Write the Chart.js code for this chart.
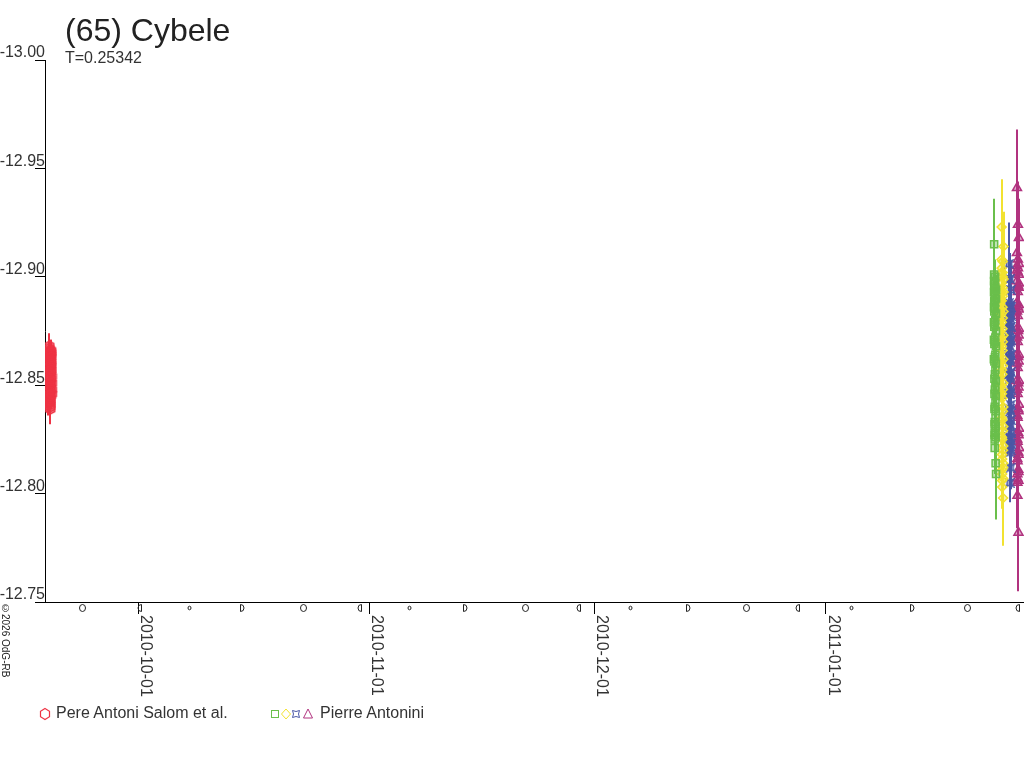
<!DOCTYPE html>
<html>
<head>
<meta charset="utf-8">
<script src="https://cdn.jsdelivr.net/npm/chart.js@4.4.1/dist/chart.umd.min.js"></script>
<style>
  html, body { margin:0; padding:0; background:#fff; }
  #wrap { position:relative; width:1024px; height:768px; overflow:hidden; font-family:"Liberation Sans", Arial, sans-serif; }
  canvas { position:absolute; left:0; top:0; }
  .t { position:absolute; white-space:nowrap; line-height:1; color:#222; }
</style>
</head>
<body>
<div id="wrap">
  <canvas id="c" width="1024" height="768" style="width:1024px;height:768px"></canvas>
  <div class="t" style="left:65px;top:14px;font-size:32px;">(65) Cybele</div>
  <div class="t" style="left:65px;top:50px;font-size:16px;color:#333;">T=0.25342</div>
  <div class="t" style="left:0px;top:603px;font-size:10px;writing-mode:vertical-rl;color:#222;">©2026 OdG-RB</div>
  <svg style="position:absolute;left:38px;top:707px" width="14" height="14" viewBox="0 0 14 14">
    <polygon points="7,1.5 11.5,4.25 11.5,9.75 7,12.5 2.5,9.75 2.5,4.25" fill="none" stroke="#ee3344" stroke-width="1.2"/>
  </svg>
  <div class="t" style="left:56px;top:705px;font-size:16px;color:#333;">Pere Antoni Salom et al.</div>
  <svg style="position:absolute;left:266px;top:706px" width="52" height="16" viewBox="0 0 52 16">
    <rect x="5.5" y="4.5" width="7" height="7" fill="none" stroke="#6abf4b"/>
    <polygon points="20,3 24.5,8 20,13 15.5,8" fill="none" stroke="#f2e230"/>
    <path d="M26.5,4.5 Q30,6.5 33.5,4.5 Q31.5,8 33.5,11.5 Q30,9.5 26.5,11.5 Q28.5,8 26.5,4.5 Z" fill="none" stroke="#4b58a6"/>
    <polygon points="42,3 46.5,12 37.5,12" fill="none" stroke="#b1337f"/>
  </svg>
  <div class="t" style="left:320px;top:705px;font-size:16px;color:#333;">Pierre Antonini</div>
</div>
<script>
// ---- axis / tick data (x in days since 2010-09-01 00:00 UT) ----
const xMin = 17.56;
const xMax = 148.48;
const monthTickDays = [30, 61, 91, 122];
const monthTickLabels = ['2010-10-01', '2010-11-01', '2010-12-01', '2011-01-01'];
const yMin = -13.00;
const yMax = -12.75;
const yStep = 0.05;

// moon phases: 'F' full, 'L' last quarter, 'N' new, 'Q' first quarter
const moonDays = [22.47, 30.16, 36.78, 43.89, 52.07, 59.53, 66.20, 73.69, 81.73, 88.86, 95.73, 103.58, 111.34, 118.18, 125.38, 133.48, 140.89, 147.54];
const moonTypes = ['F','L','N','Q','F','L','N','Q','F','L','N','Q','F','L','N','Q','F','L'];

// ---- Pere Antoni Salom et al. ----
const salomT = [18.02,18.03,18.04,18.05,18.06,18.07,18.08,18.09,18.10,
                18.11,18.12,18.13,18.14,18.15,18.16,18.17,18.18,18.19,
                18.20,18.21,18.22,18.23,18.24,18.25,18.26,18.27,18.28,
                18.29,18.30,18.31,18.32,18.33,18.34,18.35,18.36,18.37,
                18.38,18.39,18.40,18.41,18.42,18.43,18.44,18.45,18.46];
const salomMag = [-12.842,-12.845,-12.848,-12.850,-12.853,-12.856,-12.858,-12.861,-12.863,
                  -12.865,-12.867,-12.866,-12.868,-12.865,-12.864,-12.862,-12.859,-12.857,
                  -12.854,-12.851,-12.849,-12.846,-12.844,-12.842,-12.840,-12.839,-12.841,
                  -12.843,-12.845,-12.848,-12.851,-12.853,-12.856,-12.859,-12.861,-12.864,
                  -12.866,-12.865,-12.863,-12.860,-12.857,-12.854,-12.851,-12.848,-12.846];
const salomErr = [0.006,0.005,0.005,0.006,0.005,0.004,0.005,0.006,0.005,
                  0.005,0.006,0.005,0.006,0.005,0.004,0.005,0.005,0.006,
                  0.005,0.004,0.005,0.006,0.005,0.005,0.006,0.007,0.005,
                  0.005,0.006,0.005,0.004,0.005,0.006,0.005,0.005,0.006,
                  0.005,0.006,0.005,0.005,0.004,0.005,0.006,0.005,0.005];

// ---- Pierre Antonini, night 1 (green squares) ----
const ant1T = [144.450,144.455,144.461,144.466,144.472,144.477,144.483,144.488,
               144.494,144.499,144.505,144.510,144.516,144.521,144.527,144.532,
               144.538,144.543,144.549,144.554,144.560,144.565,144.571,144.576,
               144.582,144.587,144.593,144.598,144.604,144.609,144.615,144.620,
               144.626,144.631,144.637,144.642,144.648,144.653,144.659,144.664,
               144.670,144.675,144.681,144.686,144.692,144.697,144.703,144.708,
               144.714,144.719,144.725,144.730,144.736,144.741,144.747,144.752];
const ant1Mag = [-12.862,-12.871,-12.879,-12.886,-12.893,-12.898,-12.901,-12.915,
                 -12.896,-12.889,-12.884,-12.877,-12.869,-12.861,-12.853,-12.846,
                 -12.839,-12.832,-12.828,-12.825,-12.821,-12.827,-12.833,-12.840,
                 -12.848,-12.855,-12.863,-12.870,-12.878,-12.885,-12.891,-12.897,
                 -12.900,-12.895,-12.888,-12.880,-12.872,-12.864,-12.857,-12.849,
                 -12.842,-12.835,-12.829,-12.814,-12.826,-12.831,-12.838,-12.845,
                 -12.852,-12.860,-12.868,-12.875,-12.883,-12.809,-12.890,-12.894];
const ant1Err = [0.007,0.008,0.007,0.009,0.008,0.007,0.009,0.021,
                 0.008,0.007,0.008,0.006,0.007,0.008,0.007,0.006,
                 0.007,0.008,0.006,0.007,0.012,0.007,0.008,0.006,
                 0.007,0.008,0.007,0.006,0.008,0.007,0.009,0.008,
                 0.008,0.007,0.008,0.006,0.007,0.008,0.007,0.006,
                 0.007,0.006,0.008,0.018,0.007,0.008,0.006,0.007,
                 0.008,0.007,0.006,0.008,0.007,0.021,0.008,0.007];

// ---- Pierre Antonini, night 2 (yellow diamonds) ----
const ant2T = [145.450,145.455,145.461,145.466,145.472,145.477,145.483,145.488,
               145.494,145.499,145.505,145.510,145.516,145.521,145.527,145.532,
               145.538,145.543,145.549,145.554,145.560,145.565,145.571,145.576,
               145.582,145.587,145.593,145.598,145.604,145.609,145.615,145.620,
               145.626,145.631,145.637,145.642,145.648,145.653,145.659,145.664,
               145.670,145.675,145.681,145.686,145.692,145.697,145.703,145.708,
               145.714,145.719,145.725,145.730,145.736,145.741,145.747,145.752];
const ant2Mag = [-12.850,-12.861,-12.872,-12.883,-12.893,-12.902,-12.908,-12.923,
                 -12.904,-12.897,-12.889,-12.879,-12.868,-12.857,-12.846,-12.835,
                 -12.826,-12.818,-12.811,-12.806,-12.803,-12.809,-12.816,-12.825,
                 -12.834,-12.844,-12.855,-12.866,-12.876,-12.886,-12.895,-12.902,
                 -12.907,-12.900,-12.891,-12.881,-12.870,-12.859,-12.848,-12.838,
                 -12.829,-12.820,-12.812,-12.798,-12.807,-12.814,-12.822,-12.831,
                 -12.840,-12.851,-12.862,-12.873,-12.884,-12.914,-12.893,-12.899];
const ant2Err = [0.008,0.007,0.009,0.008,0.007,0.009,0.010,0.022,
                 0.009,0.008,0.007,0.008,0.009,0.007,0.008,0.007,
                 0.008,0.009,0.007,0.008,0.010,0.008,0.007,0.008,
                 0.007,0.008,0.009,0.007,0.008,0.009,0.008,0.007,
                 0.009,0.008,0.007,0.009,0.008,0.007,0.008,0.009,
                 0.007,0.008,0.009,0.022,0.008,0.007,0.009,0.008,
                 0.007,0.008,0.009,0.007,0.008,0.016,0.009,0.008];

// ---- Pierre Antonini, night 3 (blue stars) ----
const ant3T = [146.450,146.455,146.461,146.466,146.472,146.477,146.483,146.488,
               146.494,146.499,146.505,146.510,146.516,146.521,146.527,146.532,
               146.538,146.543,146.549,146.554,146.560,146.565,146.571,146.576,
               146.582,146.587,146.593,146.598,146.604,146.609,146.615,146.620,
               146.626,146.631,146.637,146.642,146.648,146.653,146.659,146.664,
               146.670,146.675,146.681,146.686,146.692,146.697,146.703,146.708,
               146.714,146.719,146.725,146.730,146.736,146.741,146.747,146.752];
const ant3Mag = [-12.846,-12.855,-12.864,-12.872,-12.879,-12.885,-12.888,-12.906,
                 -12.884,-12.878,-12.871,-12.863,-12.855,-12.847,-12.839,-12.832,
                 -12.826,-12.822,-12.819,-12.805,-12.821,-12.826,-12.832,-12.839,
                 -12.846,-12.853,-12.861,-12.868,-12.875,-12.881,-12.886,-12.899,
                 -12.887,-12.883,-12.877,-12.870,-12.862,-12.854,-12.846,-12.838,
                 -12.831,-12.825,-12.820,-12.812,-12.823,-12.828,-12.834,-12.841,
                 -12.848,-12.856,-12.864,-12.871,-12.877,-12.894,-12.882,-12.886];
const ant3Err = [0.007,0.006,0.008,0.007,0.006,0.008,0.007,0.019,
                 0.007,0.008,0.006,0.007,0.008,0.006,0.007,0.008,
                 0.006,0.007,0.008,0.009,0.007,0.006,0.008,0.007,
                 0.006,0.007,0.008,0.006,0.007,0.008,0.006,0.012,
                 0.007,0.006,0.008,0.007,0.006,0.008,0.007,0.006,
                 0.008,0.007,0.006,0.010,0.007,0.008,0.006,0.007,
                 0.008,0.006,0.007,0.008,0.006,0.011,0.007,0.008];

// ---- Pierre Antonini, night 4 (magenta triangles) ----
const ant4T = [147.500,147.506,147.511,147.517,147.522,147.528,147.533,147.539,
               147.544,147.550,147.555,147.561,147.566,147.572,147.577,147.583,
               147.588,147.594,147.599,147.605,147.610,147.616,147.621,147.627,
               147.632,147.638,147.643,147.649,147.654,147.660,147.665,147.671,
               147.676,147.682,147.687,147.693,147.698,147.704,147.709,147.715,
               147.720,147.726,147.731,147.737,147.742,147.748,147.753,147.759,
               147.764,147.770,147.775,147.781,147.786,147.792,147.797,147.803,
               147.808,147.814,147.819,147.825,147.830,147.836,147.841,147.847];
const ant4Mag = [-12.852,-12.864,-12.876,-12.888,-12.898,-12.905,-12.911,-12.941,
                 -12.903,-12.895,-12.884,-12.872,-12.860,-12.848,-12.836,-12.825,
                 -12.816,-12.809,-12.805,-12.799,-12.807,-12.815,-12.824,-12.835,
                 -12.846,-12.858,-12.870,-12.882,-12.893,-12.902,-12.908,-12.924,
                 -12.904,-12.896,-12.886,-12.875,-12.863,-12.851,-12.839,-12.828,
                 -12.819,-12.811,-12.806,-12.782,-12.810,-12.818,-12.827,-12.838,
                 -12.849,-12.861,-12.873,-12.885,-12.895,-12.918,-12.901,-12.906,
                 -12.897,-12.887,-12.876,-12.864,-12.852,-12.841,-12.830,-12.821];
const ant4Err = [0.009,0.008,0.010,0.009,0.008,0.010,0.011,0.027,
                 0.009,0.010,0.008,0.009,0.010,0.008,0.009,0.010,
                 0.008,0.009,0.010,0.015,0.009,0.008,0.010,0.009,
                 0.010,0.008,0.009,0.010,0.008,0.009,0.011,0.020,
                 0.009,0.010,0.008,0.009,0.010,0.008,0.009,0.010,
                 0.008,0.009,0.010,0.027,0.009,0.008,0.010,0.009,
                 0.010,0.008,0.009,0.010,0.008,0.018,0.009,0.010,
                 0.008,0.009,0.010,0.008,0.009,0.010,0.008,0.009];

// ---- colours ----
const cRed = '#ee3344', cGreen = '#6abf4b', cYellow = '#f2e230', cBlue = '#4b58a6', cMagenta = '#b1337f';
const fillAlpha = 0.4;

function hexToRgba(hex, a) {
  const n = parseInt(hex.slice(1), 16);
  return 'rgba(' + ((n >> 16) & 255) + ',' + ((n >> 8) & 255) + ',' + (n & 255) + ',' + a + ')';
}

// custom marker images
function markerCanvas(size, drawFn, color) {
  const cv = document.createElement('canvas');
  cv.width = size; cv.height = size;
  const g = cv.getContext('2d');
  g.strokeStyle = color; g.fillStyle = hexToRgba(color, fillAlpha); g.lineWidth = 1.5;
  g.translate(size / 2, size / 2);
  drawFn(g);
  return cv;
}
const hexMarker = markerCanvas(12, g => {
  g.beginPath();
  g.moveTo(0, -5); g.lineTo(4.5, -2.5); g.lineTo(4.5, 2.5); g.lineTo(0, 5); g.lineTo(-4.5, 2.5); g.lineTo(-4.5, -2.5);
  g.closePath(); g.fill(); g.stroke();
}, cRed);
const starMarker = markerCanvas(10, g => {
  const r = 3.5;
  g.beginPath();
  g.moveTo(-r, -r);
  g.quadraticCurveTo(0, -r * 0.4, r, -r);
  g.quadraticCurveTo(r * 0.4, 0, r, r);
  g.quadraticCurveTo(0, r * 0.4, -r, r);
  g.quadraticCurveTo(-r * 0.4, 0, -r, -r);
  g.closePath(); g.fill(); g.stroke();
}, cBlue);

const toPts = (t, m) => t.map((v, i) => ({ x: v, y: m[i] }));

function ds(label, t, m, e, color, style, radius) {
  return {
    label, data: toPts(t, m), errors: e,
    borderColor: color, backgroundColor: hexToRgba(color, fillAlpha),
    pointStyle: style, pointRadius: radius, pointBorderWidth: 1.5,
    showLine: false
  };
}

const errorBars = {
  id: 'errorBars',
  beforeDatasetsDraw(chart) {
    const { ctx, chartArea: a, scales: { x, y } } = chart;
    ctx.save();
    ctx.beginPath(); ctx.rect(a.left, a.top, a.right - a.left, a.bottom - a.top); ctx.clip();
    ctx.lineWidth = 2;
    chart.data.datasets.forEach(d => {
      if (!d.errors) return;
      ctx.strokeStyle = d.borderColor;
      d.data.forEach((p, i) => {
        const px = Math.round(x.getPixelForValue(p.x));
        ctx.beginPath();
        ctx.moveTo(px, y.getPixelForValue(p.y - d.errors[i]));
        ctx.lineTo(px, y.getPixelForValue(p.y + d.errors[i]));
        ctx.stroke();
      });
    });
    ctx.restore();
  }
};

const axisDecor = {
  id: 'axisDecor',
  afterDraw(chart) {
    const { ctx, chartArea: a, scales: { x } } = chart;
    ctx.save();
    // moon phase symbols
    ctx.strokeStyle = '#222'; ctx.lineWidth = 1;
    const cy = a.bottom + 6;
    moonDays.forEach((d, i) => {
      const px = Math.round(x.getPixelForValue(d)) + 0.5;
      if (px < a.left || px > a.right) return;
      const tp = moonTypes[i];
      ctx.beginPath();
      if (tp === 'F') {
        ctx.ellipse(px, cy, 3, 3.5, 0, 0, Math.PI * 2);
      } else if (tp === 'N') {
        ctx.ellipse(px, cy, 1.5, 1.8, 0, 0, Math.PI * 2);
      } else if (tp === 'Q') {
        ctx.moveTo(px - 2, cy - 3.5); ctx.lineTo(px - 2, cy + 3.5);
        ctx.moveTo(px - 2, cy - 3.5);
        ctx.ellipse(px - 2, cy, 3.5, 3.5, 0, -Math.PI / 2, Math.PI / 2);
      } else {
        ctx.moveTo(px + 2, cy - 3.5); ctx.lineTo(px + 2, cy + 3.5);
        ctx.moveTo(px + 2, cy - 3.5);
        ctx.ellipse(px + 2, cy, 3.5, 3.5, 0, -Math.PI / 2, Math.PI / 2, true);
      }
      ctx.stroke();
    });
    // rotated month labels (top to bottom)
    ctx.fillStyle = '#333';
    ctx.font = '16px "Liberation Sans", Arial, sans-serif';
    ctx.textAlign = 'left'; ctx.textBaseline = 'middle';
    monthTickDays.forEach((d, i) => {
      const px = x.getPixelForValue(d);
      ctx.save();
      ctx.translate(px + 7, a.bottom + 13);
      ctx.rotate(Math.PI / 2);
      ctx.fillText(monthTickLabels[i], 0, 0);
      ctx.restore();
    });
    ctx.restore();
  }
};

new Chart(document.getElementById('c'), {
  type: 'scatter',
  data: {
    datasets: [
      ds('Pere Antoni Salom et al.', salomT, salomMag, salomErr, cRed, hexMarker, 5),
      ds('Pierre Antonini', ant1T, ant1Mag, ant1Err, cGreen, 'rect', 5),
      ds('Pierre Antonini', ant2T, ant2Mag, ant2Err, cYellow, 'rectRot', 4.5),
      ds('Pierre Antonini', ant3T, ant3Mag, ant3Err, cBlue, starMarker, 4),
      ds('Pierre Antonini', ant4T, ant4Mag, ant4Err, cMagenta, 'triangle', 5.2)
    ]
  },
  options: {
    responsive: false,
    animation: false,
    devicePixelRatio: 1,
    layout: { autoPadding: false, padding: { left: 0, right: 0, top: 60, bottom: 154 } },
    plugins: { legend: { display: false }, tooltip: { enabled: false }, title: { display: false } },
    scales: {
      x: {
        type: 'linear', min: xMin, max: xMax,
        grid: { drawOnChartArea: false, drawTicks: true, tickLength: 12, color: '#000', lineWidth: 1 },
        border: { color: '#000', width: 1 },
        ticks: { display: false },
        afterBuildTicks: s => { s.ticks = monthTickDays.map(v => ({ value: v })); },
        afterFit: s => { s.height = 12; }
      },
      y: {
        type: 'linear', reverse: true, min: yMin, max: yMax,
        grid: { drawOnChartArea: false, drawTicks: true, tickLength: 10, color: '#000', lineWidth: 1 },
        border: { color: '#000', width: 1 },
        ticks: {
          stepSize: yStep, padding: -10, labelOffset: -7, color: '#333',
          font: { family: '"Liberation Sans", Arial, sans-serif', size: 16 },
          callback: v => Number(v).toFixed(2)
        },
        afterFit: s => { s.width = 45; }
      }
    }
  },
  plugins: [errorBars, axisDecor]
});
</script>
</body>
</html>
